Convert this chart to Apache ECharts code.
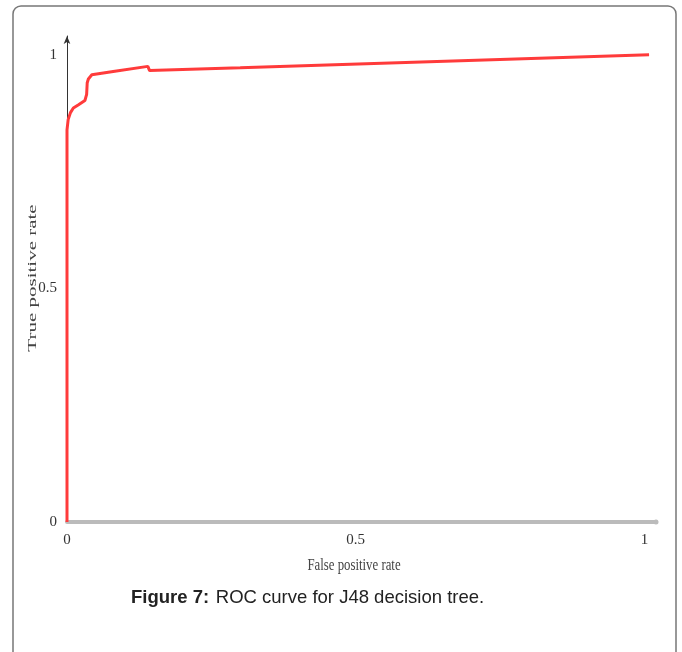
<!DOCTYPE html>
<html><head><meta charset="utf-8">
<script src="https://cdn.jsdelivr.net/npm/echarts@6/dist/echarts.min.js"></script>
<style>html,body{margin:0;padding:0;background:#fff}#c{width:682px;height:652px}</style>
</head><body><div id="c"></div>
<script>
const fpr = [0, 0, 0.002, 0.006, 0.011, 0.02, 0.031, 0.034, 0.035, 0.037, 0.043, 0.08, 0.14, 0.143, 0.3, 0.6, 1.008];
const tpr = [0, 0.839, 0.861, 0.876, 0.886, 0.893, 0.902, 0.915, 0.94, 0.948, 0.957, 0.964, 0.975, 0.966, 0.972, 0.984, 1.0];
const xTicks = [0, 0.5, 1];
const yTicks = [0, 0.5, 1];
const xName = 'False positive rate';
const yName = 'True positive rate';
const captionBold = 'Figure 7:';
const captionText = 'ROC curve for J48 decision tree.';

const serif = 'Liberation Serif';
const chart = echarts.init(document.getElementById('c'));
chart.setOption({
  animation: false,
  backgroundColor: '#fff',
  grid: {left: 67, right: 26, top: 36, bottom: 130},
  xAxis: {
    type: 'value', min: 0, max: 1.02, interval: 0.5,
    axisLine: {show: true, symbol: ['none', 'circle'], symbolSize: [5, 5], lineStyle: {color: '#bbb', width: 4}},
    axisTick: {show: false},
    splitLine: {show: false},
    axisLabel: {showMaxLabel: false, fontFamily: serif, fontSize: 15, color: '#333', margin: 11,
      formatter: v => xTicks.includes(v) ? String(v) : ''}
  },
  yAxis: {
    type: 'value', min: 0, max: 1.04, interval: 0.5,
    axisLine: {show: true, symbol: ['none', 'arrow'], symbolSize: [5, 8], lineStyle: {color: '#333', width: 1}},
    axisTick: {show: false},
    splitLine: {show: false},
    axisLabel: {showMaxLabel: false, fontFamily: serif, fontSize: 15, color: '#333', margin: 10,
      formatter: v => yTicks.includes(v) ? String(v) : ''}
  },
  series: [{
    type: 'line',
    data: fpr.map((x, i) => [x, tpr[i]]),
    showSymbol: false,
    lineStyle: {color: '#ff3b3b', width: 3},
    z: 1
  }],
  graphic: [
    {type: 'rect', z: -1, silent: true,
      shape: {x: 13, y: 6, width: 663, height: 700, r: 8},
      style: {fill: 'none', stroke: '#777', lineWidth: 1.5}},
    {type: 'text', x: 354, y: 566, scaleX: 0.8,
      style: {text: xName, x: 0, y: 0, align: 'center', verticalAlign: 'middle',
        fontFamily: serif, fontSize: 16, fill: '#444'}},
    {type: 'text', x: 33, y: 278, rotation: Math.PI / 2, scaleY: 0.55,
      style: {text: yName, x: 0, y: 0, align: 'center', verticalAlign: 'middle',
        fontFamily: serif, fontSize: 21, fill: '#444'}},
    {type: 'text', left: 131, top: 588,
      style: {
        text: '{b|' + captionBold + '}  {n|' + captionText + '}',
        rich: {
          b: {fontFamily: 'Liberation Sans', fontWeight: 'bold', fontSize: 18.5, fill: '#222'},
          n: {fontFamily: 'Liberation Sans', fontSize: 18.5, fill: '#222'}
        }
      }}
  ]
});
</script></body></html>
